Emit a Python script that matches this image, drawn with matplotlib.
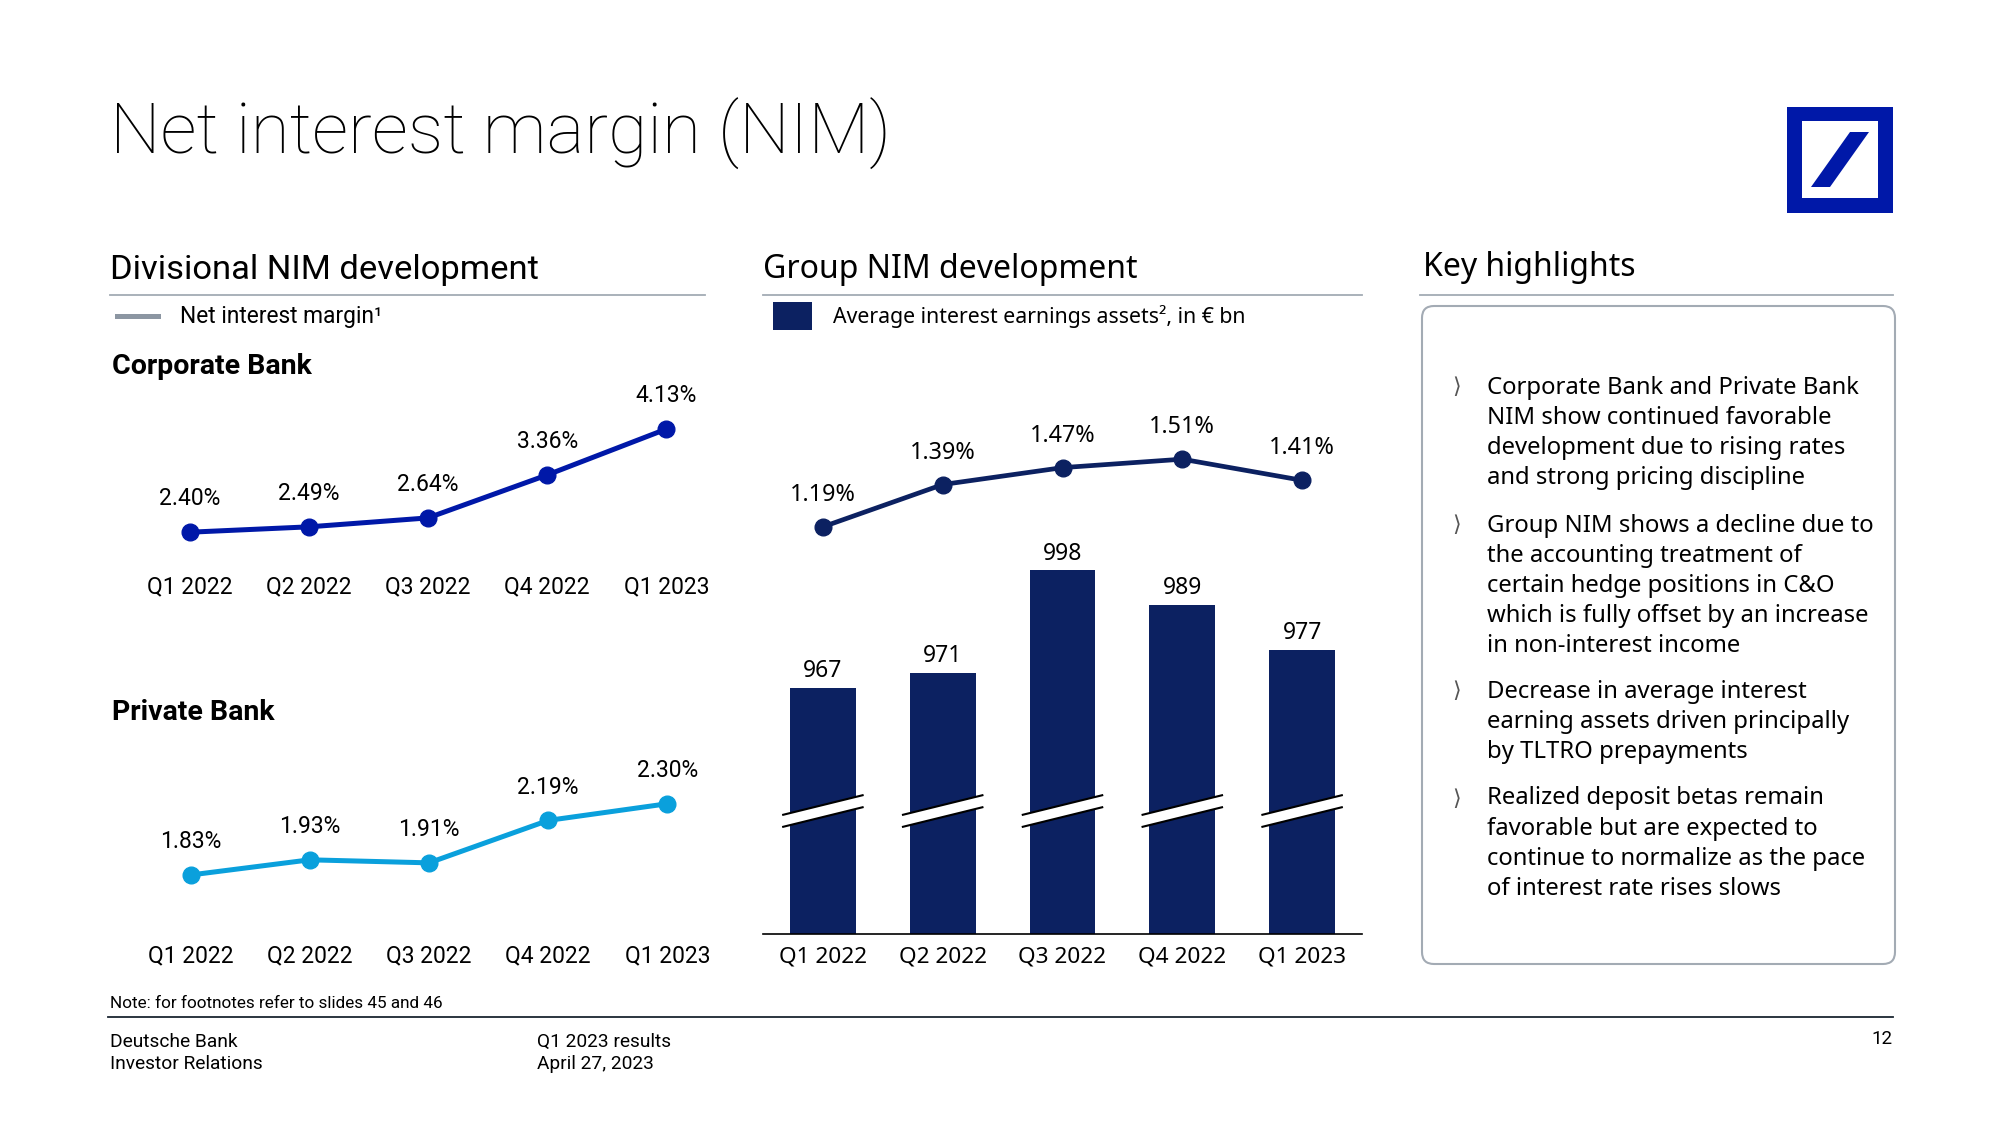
import matplotlib
matplotlib.use("Agg")
from matplotlib import pyplot as plt
from matplotlib.patches import Rectangle, Polygon, FancyBboxPatch
from matplotlib.lines import Line2D
import matplotlib.transforms as mtransforms

# data
quarters = ["Q1 2022", "Q2 2022", "Q3 2022", "Q4 2022", "Q1 2023"]
cb_nim = [2.40, 2.49, 2.64, 3.36, 4.13]
pb_nim = [1.83, 1.93, 1.91, 2.19, 2.30]
group_nim = [1.19, 1.39, 1.47, 1.51, 1.41]
avg_assets = [967, 971, 998, 989, 977]

highlights = [
    ["Corporate Bank and Private Bank", "NIM show continued favorable",
     "development due to rising rates", "and strong pricing discipline"],
    ["Group NIM shows a decline due to", "the accounting treatment of",
     "certain hedge positions in C&O", "which is fully offset by an increase",
     "in non-interest income"],
    ["Decrease in average interest", "earning assets driven principally",
     "by TLTRO prepayments"],
    ["Realized deposit betas remain", "favorable but are expected to",
     "continue to normalize as the pace", "of interest rate rises slows"],
]

COND = ["Liberation Sans Narrow", "Roboto", "DejaVu Sans"]
WIDE = ["Noto Sans", "DejaVu Sans"]
DB_BLUE = "#0018A8"
PB_BLUE = "#0AA0DC"
NAVY = "#0C2161"
GREY = "#A3ABB4"

W, H = 2000, 1125
fig = plt.figure(figsize=(20, 11.25), dpi=100)
fig.patch.set_facecolor("white")
inch = fig.dpi_scale_trans


def fx(px):
    return px / 100.0


def fy(py):
    return (H - py) / 100.0


def txt(x, y, s, **kw):
    kw.setdefault("va", "center")
    kw.setdefault("color", "black")
    return fig.text(fx(x), fy(y), s, transform=inch, **kw)


def hline(x0, x1, y, color, lw):
    fig.add_artist(Line2D([fx(x0), fx(x1)], [fy(y), fy(y)], transform=inch,
                          color=color, lw=lw))


def px_axes(x0, x1, y_top, y_bot):
    ax = fig.add_axes([x0 / W, 1 - y_bot / H, (x1 - x0) / W, (y_bot - y_top) / H])
    ax.set_facecolor("none")
    for s in ax.spines.values():
        s.set_visible(False)
    ax.set_yticks([])
    ax.set_xlim(-0.5, 4.5)
    return ax


# title and logo
txt(110, 134, "Net interest margin (NIM)", family=COND, fontsize=51.3, fontweight="light")
fig.add_artist(Rectangle((fx(1787), fy(213)), fx(106), fx(106), transform=inch,
                         facecolor=DB_BLUE, edgecolor="none"))
fig.add_artist(Rectangle((fx(1802), fy(198)), fx(76), fx(77), transform=inch,
                         facecolor="white", edgecolor="none"))
fig.add_artist(Polygon([(fx(1850), fy(132)), (fx(1869), fy(132)),
                        (fx(1830), fy(187)), (fx(1811), fy(187))],
                       closed=True, transform=inch, facecolor=DB_BLUE,
                       edgecolor="none"))

# section headings
txt(110, 270, "Divisional NIM development", family=COND, fontsize=24.8)
hline(110, 705, 295, GREY, 1.3)
txt(763, 270, "Group NIM development", family=WIDE, fontsize=23)
hline(763, 1362, 295, GREY, 1.3)
txt(1423, 267, "Key highlights", family=WIDE, fontsize=23)
hline(1420, 1893, 295, GREY, 1.3)

# legends
hline(117, 158, 316, "#8C96A2", 3.6)
txt(180, 317, "Net interest margin¹", family=COND, fontsize=16.4)
fig.add_artist(Rectangle((fx(773), fy(330)), fx(39), fx(28), transform=inch,
                         facecolor=NAVY, edgecolor="none"))
txt(833, 317, "Average interest earnings assets², in € bn", family=WIDE,
    fontsize=15.3)

txt(112, 367, "Corporate Bank", family=COND, fontsize=20.5, fontweight="bold")
txt(112, 712, "Private Bank", family=COND, fontsize=20.5, fontweight="bold")

x = list(range(len(quarters)))


def nim_line(ax, vals, color, font, pad):
    ax.plot(x, vals, color=color, lw=3.6, marker="o", ms=12, zorder=3)
    for i, v in enumerate(vals):
        ax.annotate("%.2f%%" % v, (i, v), xytext=(0, 24), textcoords="offset points",
                    ha="center", va="center", fontsize=16.5, family=font)
    ax.set_xticks(x)
    ax.set_xticklabels(quarters, family=font, fontsize=16.5)
    ax.tick_params(axis="x", length=0, pad=pad)


# Corporate Bank
ax_cb = px_axes(130, 726, 401, 568)
ax_cb.set_ylim(1.8, 4.6)
nim_line(ax_cb, cb_nim, DB_BLUE, COND, 5)

# Private Bank
ax_pb = px_axes(131, 727, 781, 925)
ax_pb.set_ylim(1.5, 2.45)
nim_line(ax_pb, pb_nim, PB_BLUE, COND, 14)

# Group bars with broken axis
ax_bar = px_axes(763, 1362, 525, 934)
ax_bar.set_ylim(902, 1010)
ax_bar.bar(x, avg_assets, width=0.55, color=NAVY, zorder=2)
for i, v in enumerate(avg_assets):
    ax_bar.annotate(str(v), (i, v), xytext=(0, 12), textcoords="offset points",
                    ha="center", va="center", fontsize=16.5, family=WIDE)
ax_bar.spines["bottom"].set_visible(True)
ax_bar.spines["bottom"].set_color("black")
ax_bar.spines["bottom"].set_linewidth(1.2)
ax_bar.set_xticks(x)
ax_bar.set_xticklabels(quarters, family=WIDE, fontsize=16.3)
ax_bar.tick_params(axis="x", length=0, pad=9)

# break marks across each bar
trans = mtransforms.blended_transform_factory(ax_bar.transData, ax_bar.transAxes)
c, half_rise, half_thick, half_len = 0.3007, 0.0245, 0.0147, 0.34
for i in x:
    lo = [(i - half_len, c - half_rise - half_thick), (i + half_len, c + half_rise - half_thick)]
    hi = [(i - half_len, c - half_rise + half_thick), (i + half_len, c + half_rise + half_thick)]
    ax_bar.add_patch(Polygon(lo + hi[::-1], closed=True, transform=trans,
                             facecolor="white", edgecolor="none", zorder=4))
    for seg in (lo, hi):
        ax_bar.plot([seg[0][0], seg[1][0]], [seg[0][1], seg[1][1]], transform=trans,
                    color="black", lw=1.5, zorder=5, solid_capstyle="butt")

# Group NIM line
ax_gl = px_axes(763, 1362, 419, 567)
ax_gl.set_ylim(1.0, 1.7)
ax_gl.plot(x, group_nim, color=NAVY, lw=3.4, marker="o", ms=12, zorder=3)
for i, v in enumerate(group_nim):
    ax_gl.annotate("%.2f%%" % v, (i, v), xytext=(0, 23), textcoords="offset points",
                   ha="center", va="center", fontsize=16.8, family=WIDE)
ax_gl.set_xticks([])

# key highlights box
fig.add_artist(FancyBboxPatch((fx(1422), fy(964)), fx(473), fx(658),
                              boxstyle="round,pad=0,rounding_size=0.12",
                              transform=inch, facecolor="white", edgecolor=GREY, lw=1.5))
starts = [387.5, 525.5, 691.5, 798.5]
for lines, y0 in zip(highlights, starts):
    txt(1452, y0, "\u27e9", family=["DejaVu Sans"], fontsize=16, color="#555")
    for k, line in enumerate(lines):
        txt(1487, y0 + k * 30.1, line, family=WIDE, fontsize=17.2)

# footer
txt(110, 1003, "Note: for footnotes refer to slides 45 and 46", family=COND, fontsize=12.3)
hline(108, 1893, 1017, "#1A2530", 1.3)
txt(110, 1042, "Deutsche Bank", family=COND, fontsize=13.8)
txt(110, 1064, "Investor Relations", family=COND, fontsize=13.8)
txt(537, 1042, "Q1 2023 results", family=COND, fontsize=13.8)
txt(537, 1064, "April 27, 2023", family=COND, fontsize=13.8)
txt(1893, 1039, "12", family=COND, fontsize=13.5, ha="right")

fig.savefig("out.png", dpi=100)
